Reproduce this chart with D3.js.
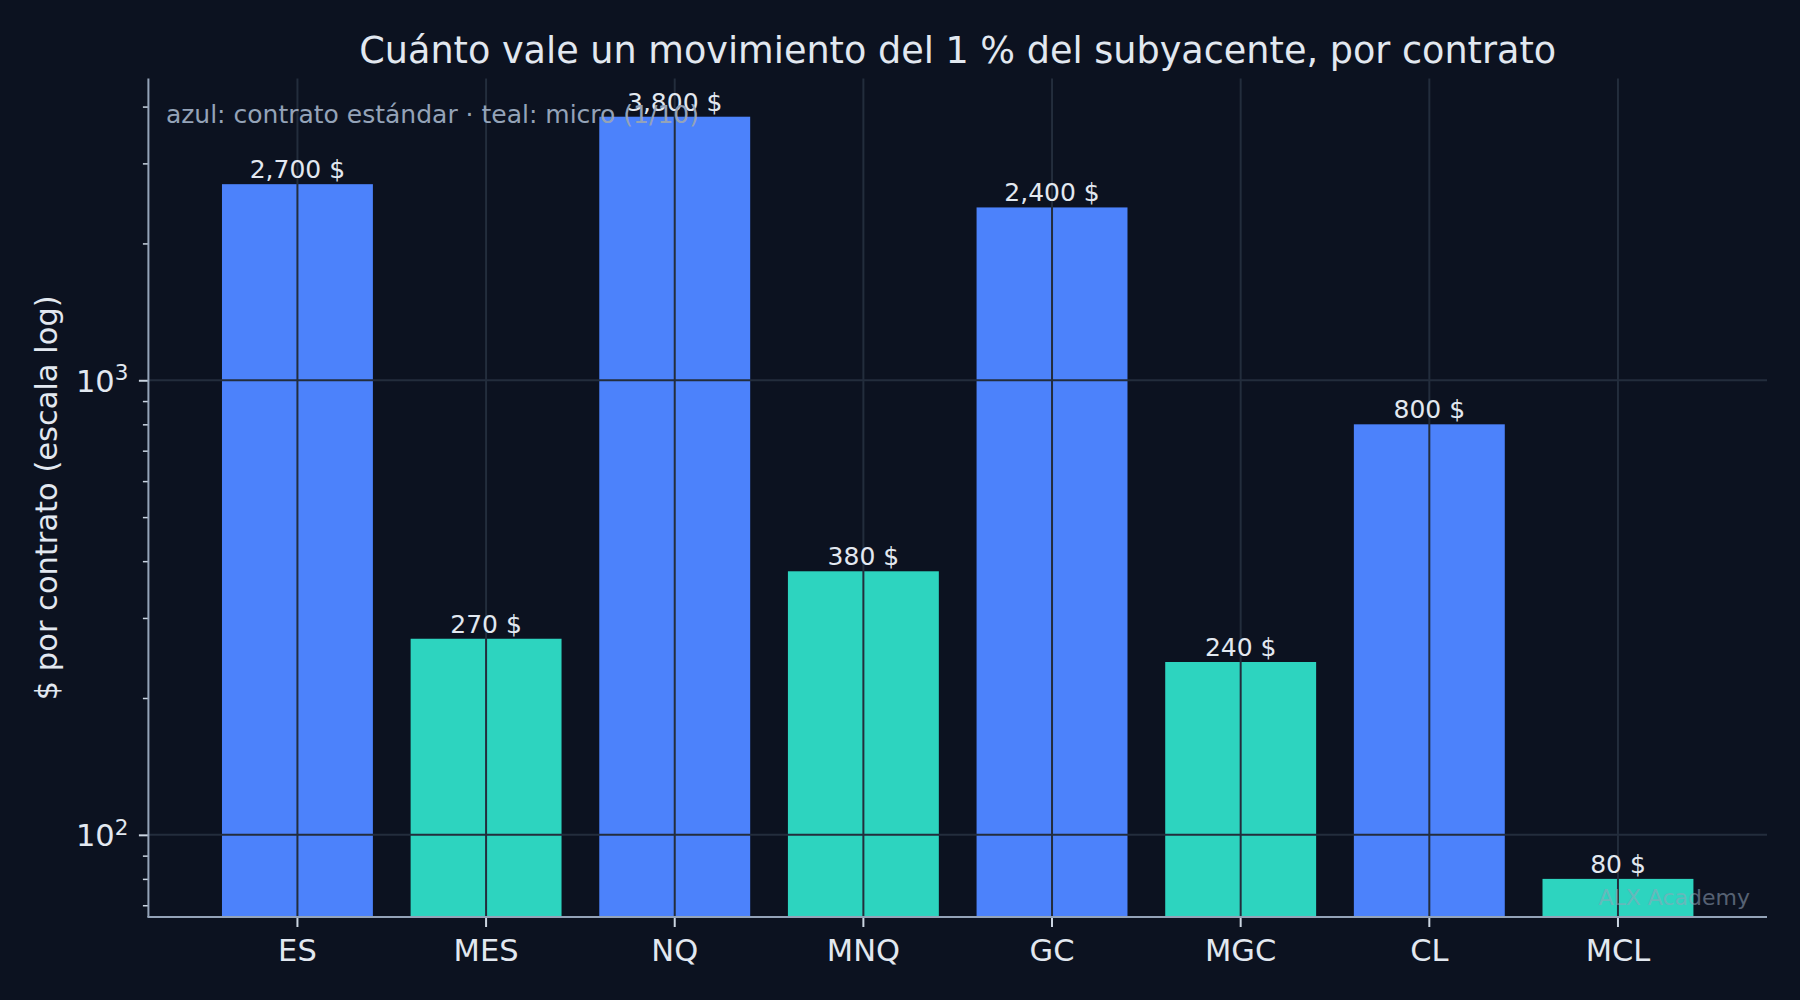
<!DOCTYPE html>
<html>
<head>
<meta charset="utf-8">
<script src="https://cdn.jsdelivr.net/npm/d3@7"></script>
<style>
  html, body { margin: 0; padding: 0; background: #0c1220; }
  svg { display: block; }
</style>
</head>
<body>
<svg id="chart" width="1800" height="1000"></svg>
<script>
// ---- data ----
const categories = ["ES", "MES", "NQ", "MNQ", "GC", "MGC", "CL", "MCL"];
const values = [2700, 270, 3800, 380, 2400, 240, 800, 80];
const kinds = ["std", "micro", "std", "micro", "std", "micro", "std", "micro"];
const valueLabels = ["2,700 $", "270 $", "3,800 $", "380 $", "2,400 $", "240 $", "800 $", "80 $"];
const majorTicks = [100, 1000];
const majorTickExps = ["2", "3"];
const minorTicks = [70, 80, 90, 200, 300, 400, 500, 600, 700, 800, 900, 2000, 3000, 4000];

const titleText = "Cuánto vale un movimiento del 1 % del subyacente, por contrato";
const yLabelText = "$ por contrato (escala log)";
const noteText = "azul: contrato estándar · teal: micro (1/10)";
const watermarkText = "ALX Academy";

// ---- layout / style ----
const W = 1800, H = 1000;
const AX = { l: 148.4, r: 1767, t: 78.6, b: 917 };
const BG = "#0c1220";
const COLORS = { std: "#4c82fb", micro: "#2dd4bf" };
const GRID = "#232d3c";
const SPINE = "#94a3b8";
const TEXT = "#e2e8f0";
const FONT = "'DejaVu Sans', sans-serif";

const svg = d3.select("#chart");
svg.append("rect").attr("width", W).attr("height", H).attr("fill", BG);

// ---- scales ----
const x = d3.scaleBand()
  .domain(categories)
  .range([AX.l, AX.r])
  .paddingInner(0.2)
  .paddingOuter(0.39);

const lmin = Math.log10(d3.min(values)), lmax = Math.log10(d3.max(values));
const pad = 0.05 * (lmax - lmin);
const y = d3.scaleLog()
  .domain([Math.pow(10, lmin - pad), Math.pow(10, lmax + pad)])
  .range([AX.b, AX.t]);

// ---- bars ----
const data = categories.map((c, i) => ({ c, v: values[i], k: kinds[i], lab: valueLabels[i] }));

svg.append("g").selectAll("rect").data(data).join("rect")
  .attr("x", d => x(d.c))
  .attr("width", x.bandwidth())
  .attr("y", d => y(d.v))
  .attr("height", d => AX.b - y(d.v))
  .attr("fill", d => COLORS[d.k]);

// ---- grid (drawn above bars) ----
const grid = svg.append("g").attr("stroke", GRID).attr("stroke-width", 2);
grid.selectAll("line.v").data(categories).join("line").attr("class", "v")
  .attr("x1", d => x(d) + x.bandwidth() / 2).attr("x2", d => x(d) + x.bandwidth() / 2)
  .attr("y1", AX.t).attr("y2", AX.b);
grid.selectAll("line.h").data(majorTicks).join("line").attr("class", "h")
  .attr("x1", AX.l).attr("x2", AX.r)
  .attr("y1", d => y(d)).attr("y2", d => y(d));

// ---- value labels ----
svg.append("g").selectAll("text").data(data).join("text")
  .attr("x", d => x(d.c) + x.bandwidth() / 2)
  .attr("y", d => y(d.v) - 6)
  .attr("text-anchor", "middle")
  .attr("font-family", FONT)
  .attr("font-size", 25)
  .attr("fill", TEXT)
  .text(d => d.lab);

// ---- axes ----
const xAxis = svg.append("g")
  .attr("transform", `translate(0,${AX.b})`)
  .call(d3.axisBottom(x).tickSize(10).tickSizeOuter(0));
xAxis.select(".domain").remove();
xAxis.selectAll(".tick line").attr("stroke", "#cbd5e1").attr("stroke-width", 2);
xAxis.selectAll(".tick text")
  .attr("y", 44).attr("dy", null)
  .attr("font-family", FONT).attr("font-size", 30.5).attr("fill", TEXT);

const yAxisMinor = svg.append("g")
  .attr("transform", `translate(${AX.l},0)`)
  .call(d3.axisLeft(y).tickValues(minorTicks).tickSize(5.5).tickFormat(""));
yAxisMinor.select(".domain").remove();
yAxisMinor.selectAll(".tick line").attr("stroke", "#cbd5e1").attr("stroke-width", 1.5);

const yAxis = svg.append("g")
  .attr("transform", `translate(${AX.l},0)`)
  .call(d3.axisLeft(y).tickValues(majorTicks).tickSize(9.5).tickFormat(""));
yAxis.select(".domain").remove();
yAxis.selectAll(".tick line").attr("stroke", "#cbd5e1").attr("stroke-width", 2);
yAxis.selectAll(".tick").each(function (d, i) {
  const t = d3.select(this).append("text")
    .attr("x", -20).attr("y", 11)
    .attr("text-anchor", "end")
    .attr("font-family", FONT).attr("fill", TEXT);
  t.append("tspan").attr("font-size", 30.5).text("10");
  t.append("tspan").attr("font-size", 21.5).attr("dy", -11.5).text(majorTickExps[i]);
});

// spines
svg.append("line").attr("x1", AX.l).attr("x2", AX.l).attr("y1", AX.t).attr("y2", AX.b)
  .attr("stroke", SPINE).attr("stroke-width", 2);
svg.append("line").attr("x1", AX.l - 1).attr("x2", AX.r).attr("y1", AX.b).attr("y2", AX.b)
  .attr("stroke", SPINE).attr("stroke-width", 2);

// ---- texts ----
svg.append("text")
  .attr("x", (AX.l + AX.r) / 2).attr("y", 62.5)
  .attr("text-anchor", "middle")
  .attr("font-family", FONT).attr("font-size", 36.6).attr("fill", TEXT)
  .text(titleText);

svg.append("text")
  .attr("transform", `translate(57,${(AX.t + AX.b) / 2}) rotate(-90)`)
  .attr("text-anchor", "middle")
  .attr("font-family", FONT).attr("font-size", 30.5).attr("fill", TEXT)
  .text(yLabelText);

svg.append("text")
  .attr("x", AX.l + 17.5).attr("y", 122.5)
  .attr("font-family", FONT).attr("font-size", 25).attr("fill", "#94a3b8")
  .text(noteText);

svg.append("text")
  .attr("x", AX.r - 17).attr("y", 905)
  .attr("text-anchor", "end")
  .attr("font-family", FONT).attr("font-size", 22).attr("fill", "#94a3b8").attr("opacity", 0.55)
  .text(watermarkText);
</script>
</body>
</html>
